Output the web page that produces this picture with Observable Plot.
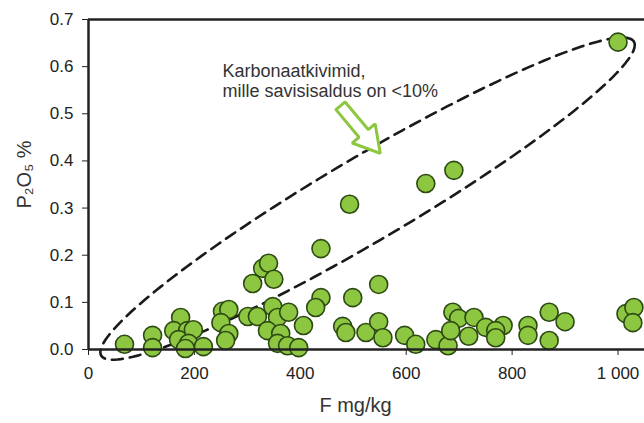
<!DOCTYPE html>
<html>
<head>
<meta charset="utf-8">
<script src="https://cdn.jsdelivr.net/npm/d3@7"></script>
<script src="https://cdn.jsdelivr.net/npm/@observablehq/plot@0.6"></script>
<style>
  html, body { margin: 0; padding: 0; background: #fff; }
  #chart { width: 644px; height: 423px; }
</style>
</head>
<body>
<div id="chart"></div>
<script>
// F (mg/kg) values
const F = [68, 121, 121, 174, 161, 187, 198, 170, 189, 217, 183,
  253, 265, 250, 265, 259, 301, 319, 348, 357, 378, 338, 363, 357, 376, 397, 406,
  329, 340, 310, 350, 439, 439, 429, 499, 480, 486, 524, 548, 556, 548,
  597, 618, 656, 679, 688, 699, 728, 684, 718, 750, 783, 769, 769, 830, 830,
  870, 900, 870, 1015, 1030, 1028, 1000, 690, 637, 493];
// P2O5 (%) values
const P = [0.011, 0.030, 0.004, 0.068, 0.040, 0.040, 0.042, 0.021, 0.013, 0.006, 0.002,
  0.081, 0.085, 0.057, 0.034, 0.019, 0.070, 0.070, 0.091, 0.068, 0.079, 0.040, 0.034, 0.013, 0.008, 0.004, 0.051,
  0.172, 0.183, 0.140, 0.149, 0.214, 0.110, 0.089, 0.110, 0.049, 0.036, 0.036, 0.059, 0.025, 0.138,
  0.030, 0.011, 0.021, 0.008, 0.079, 0.066, 0.068, 0.040, 0.028, 0.047, 0.051, 0.040, 0.025, 0.051, 0.030,
  0.079, 0.059, 0.019, 0.076, 0.089, 0.057, 0.652, 0.380, 0.352, 0.308];

const xTicks = [0, 200, 400, 600, 800, 1000];
const yTicks = [0, 0.1, 0.2, 0.3, 0.4, 0.5, 0.6, 0.7];
const xLabel = "F mg/kg";
const yLabel = "P₂O₅ %";
const noteText = "Karbonaatkivimid,\nmille savisisaldus on <10%";
const notePos = [253, 0.609];
// dashed ellipse (data units): center, semi-major vector, semi-minor vector
const ellCenter = [527, 0.320];
const ellMajor = [503, 0.333];
const ellMinor = [40.3, -0.0769];
// hollow arrow: tail and tip (data units)
const arrowTail = [476, 0.517];
const arrowTip = [551, 0.416];

const W = 644, H = 423, ML = 88, MR = 0, MT = 19, MB = 74;
const xDomain = [0, 1050], yDomain = [0, 0.7];
const kx = (W - ML - MR) / (xDomain[1] - xDomain[0]);
const ky = (H - MT - MB) / (yDomain[1] - yDomain[0]);

const data = F.map((f, i) => ({F: f, P: P[i]}));

const ellipse = d3.range(0, 361, 2).map(a => {
  const t = a * Math.PI / 180;
  return {F: ellCenter[0] + Math.cos(t) * ellMajor[0] + Math.sin(t) * ellMinor[0],
          P: ellCenter[1] + Math.cos(t) * ellMajor[1] + Math.sin(t) * ellMinor[1]};
});

// arrow polygon built in pixel-proportional space, converted back to data units
function arrowPoly() {
  const tx = arrowTail[0] * kx, ty = -arrowTail[1] * ky;
  const hx = arrowTip[0] * kx, hy = -arrowTip[1] * ky;
  const dx = hx - tx, dy = hy - ty, L = Math.hypot(dx, dy);
  const ux = dx / L, uy = dy / L, px = -uy, py = ux;
  const sw = 6, hw = 15, hl = 26;
  const bx = hx - ux * hl, by = hy - uy * hl;
  const pts = [
    [tx + px * sw, ty + py * sw], [bx + px * sw, by + py * sw], [bx + px * hw, by + py * hw],
    [hx, hy], [bx - px * hw, by - py * hw], [bx - px * sw, by - py * sw], [tx - px * sw, ty - py * sw],
    [tx + px * sw, ty + py * sw]
  ];
  return pts.map(([x, y]) => ({F: x / kx, P: -y / ky}));
}

const fmt = d3.formatLocale({decimal: ".", thousands: " ", grouping: [3], currency: ["", ""]}).format(",");

const chart = Plot.plot({
  width: W, height: H,
  marginLeft: ML, marginRight: MR, marginTop: MT, marginBottom: MB,
  style: {fontFamily: "Arial, 'Liberation Sans', sans-serif", fontSize: "17px", color: "#222", background: "#fff"},
  x: {domain: xDomain, ticks: xTicks, tickFormat: fmt, tickSize: 6, tickPadding: 11, label: null},
  y: {domain: yDomain, ticks: yTicks, tickFormat: d3.format(".1f"), tickSize: 6, tickPadding: 9, label: null},
  marks: [
    Plot.ruleY([yDomain[1]], {stroke: "#222", strokeWidth: 2.5}),
    Plot.line(ellipse, {x: "F", y: "P", stroke: "#1a1a1a", strokeWidth: 2.6, strokeDasharray: "11,7", curve: "linear"}),
    Plot.line(arrowPoly(), {x: "F", y: "P", stroke: "#8dc63f", strokeWidth: 3, fill: "#fff", strokeLinejoin: "miter"}),
    Plot.dot(data, {x: "F", y: "P", r: 9, fill: "#8dc641", stroke: "#2c4a12", strokeWidth: 1.6, fillOpacity: 1}),
    Plot.ruleX([0], {stroke: "#222", strokeWidth: 2.5}),
    Plot.ruleY([0], {stroke: "#222", strokeWidth: 2.5}),
    Plot.text([noteText], {x: () => notePos[0], y: () => notePos[1], textAnchor: "start", lineAnchor: "top", lineHeight: 1.12, fontSize: 18, fill: "#333"}),
    Plot.text([yLabel], {frameAnchor: "left", rotate: -90, dx: -64, dy: 24, fontSize: 20, fill: "#333"}),
    Plot.text([xLabel], {frameAnchor: "bottom", dx: -11, dy: 62, fontSize: 20, fill: "#333"})
  ]
});
document.getElementById("chart").appendChild(chart);
</script>
</body>
</html>
